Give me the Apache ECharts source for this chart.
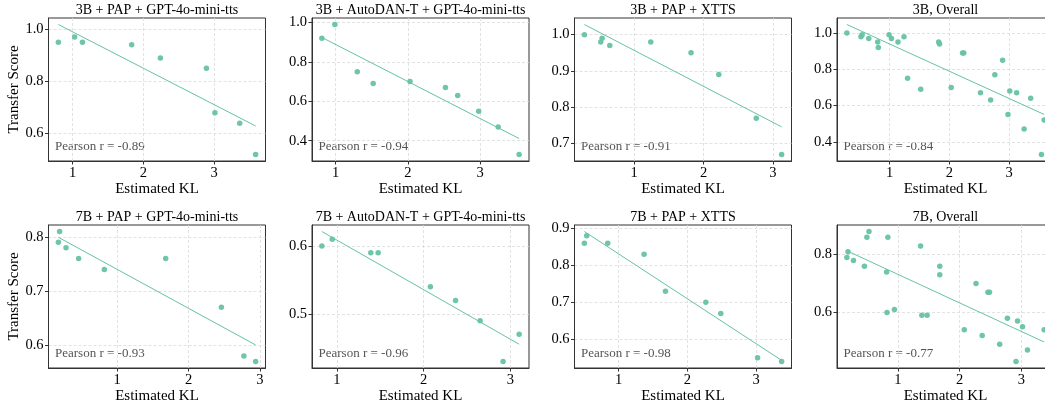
<!DOCTYPE html>
<html><head><meta charset="utf-8">
<script src="https://cdn.jsdelivr.net/npm/echarts@6/dist/echarts.min.js"></script>
<style>html,body{margin:0;padding:0;background:#fff;overflow:hidden}#c{width:1045px;height:408px}</style>
</head><body><div id="c"></div>
<script>
// ---- data ----
const titles = ['3B + PAP + GPT-4o-mini-tts', '3B + AutoDAN-T + GPT-4o-mini-tts', '3B + PAP + XTTS', '3B, Overall',
                '7B + PAP + GPT-4o-mini-tts', '7B + AutoDAN-T + GPT-4o-mini-tts', '7B + PAP + XTTS', '7B, Overall'];
const pearson = ['-0.89', '-0.94', '-0.91', '-0.84', '-0.93', '-0.96', '-0.98', '-0.77'];

const kl_3b_pap_gpt  = [0.80, 1.03, 1.14, 1.835, 2.24, 2.89, 3.01, 3.36, 3.585];
const ts_3b_pap_gpt  = [0.95, 0.97, 0.95, 0.94, 0.89, 0.85, 0.68, 0.64, 0.52];
const kl_3b_autodan  = [0.81, 0.99, 1.30, 1.52, 2.03, 2.52, 2.69, 2.98, 3.25, 3.54];
const ts_3b_autodan  = [0.92, 0.99, 0.75, 0.69, 0.70, 0.67, 0.63, 0.55, 0.47, 0.33];
const kl_3b_pap_xtts = [0.284, 0.52, 0.54, 0.65, 1.24, 1.82, 2.22, 2.76, 3.125];
const ts_3b_pap_xtts = [1.00, 0.98, 0.99, 0.97, 0.98, 0.95, 0.89, 0.77, 0.67];

const kl_7b_pap_gpt  = [0.176, 0.194, 0.283, 0.46, 0.82, 1.68, 2.46, 2.775, 2.94];
const ts_7b_pap_gpt  = [0.79, 0.81, 0.78, 0.76, 0.74, 0.76, 0.67, 0.58, 0.57];
const kl_7b_autodan  = [0.826, 0.946, 1.39, 1.475, 2.077, 2.367, 2.65, 2.915, 3.10];
const ts_7b_autodan  = [0.60, 0.61, 0.59, 0.59, 0.54, 0.52, 0.49, 0.43, 0.47];
const kl_7b_pap_xtts = [0.50, 0.534, 0.84, 1.369, 1.68, 2.267, 2.485, 3.02, 3.37];
const ts_7b_pap_xtts = [0.86, 0.88, 0.86, 0.83, 0.73, 0.70, 0.67, 0.55, 0.54];

const xTicks = [1, 2, 3];
const yTicks = [[0.6, 0.8, 1.0], [0.4, 0.6, 0.8, 1.0], [0.7, 0.8, 0.9, 1.0], [0.4, 0.6, 0.8, 1.0],
                [0.6, 0.7, 0.8], [0.5, 0.6], [0.6, 0.7, 0.8, 0.9], [0.6, 0.8]];

// overall panels are the union of the three settings
const kl_3b_all = kl_3b_pap_gpt.concat(kl_3b_autodan, kl_3b_pap_xtts);
const ts_3b_all = ts_3b_pap_gpt.concat(ts_3b_autodan, ts_3b_pap_xtts);
const kl_7b_all = kl_7b_pap_gpt.concat(kl_7b_autodan, kl_7b_pap_xtts);
const ts_7b_all = ts_7b_pap_gpt.concat(ts_7b_autodan, ts_7b_pap_xtts);

const KL = [kl_3b_pap_gpt, kl_3b_autodan, kl_3b_pap_xtts, kl_3b_all, kl_7b_pap_gpt, kl_7b_autodan, kl_7b_pap_xtts, kl_7b_all];
const TS = [ts_3b_pap_gpt, ts_3b_autodan, ts_3b_pap_xtts, ts_3b_all, ts_7b_pap_gpt, ts_7b_autodan, ts_7b_pap_xtts, ts_7b_all];

// ---- layout ----
const COL_LEFT = [48.5, 312, 574.5, 837];
const ROW_TOP = [18, 225];
const PW = 217, PH = 143;
const FONT = '"Liberation Serif", "Times New Roman", serif';
const GREEN = '#66c2a5';

function fit(x, y) {
  const n = x.length;
  const mx = x.reduce((a, b) => a + b, 0) / n, my = y.reduce((a, b) => a + b, 0) / n;
  let sxy = 0, sxx = 0;
  for (let i = 0; i < n; i++) { sxy += (x[i] - mx) * (y[i] - my); sxx += (x[i] - mx) ** 2; }
  const b = sxy / sxx;
  return v => my + b * (v - mx);
}
function padRange(vals) {
  const lo = Math.min(...vals), hi = Math.max(...vals), p = (hi - lo) * 0.05;
  return [lo - p, hi + p];
}

const grids = [], xAxes = [], yAxes = [], series = [], graphics = [];
for (let i = 0; i < 8; i++) {
  const row = i < 4 ? 0 : 1, col = i % 4;
  const left = COL_LEFT[col], top = ROW_TOP[row];
  const kl = KL[i], ts = TS[i];
  const f = fit(kl, ts);
  const x0 = Math.min(...kl), x1 = Math.max(...kl);
  const xr = padRange(kl);
  const yr = padRange(ts.concat([f(x0), f(x1)]));
  grids.push({ left: left, top: top, width: PW, height: PH, show: true, borderColor: '#333', borderWidth: 1,
               containLabel: false, outerBoundsMode: 'none' });
  xAxes.push({
    gridIndex: i, type: 'value', min: xr[0], max: xr[1],
    axisLine: { show: true, onZero: false, lineStyle: { color: '#333', width: 1 } },
    axisTick: { show: true, inside: false, length: 3.5, customValues: xTicks, lineStyle: { color: '#333' } },
    axisLabel: { customValues: xTicks, margin: 5, fontFamily: FONT, fontSize: 14.5, color: '#000',
                 formatter: v => String(Math.round(v)) },
    splitLine: { show: true, lineStyle: { color: '#dadada', type: [3, 2], width: 0.8 } },
    name: 'Estimated KL', nameLocation: 'middle', nameGap: 20,
    nameTextStyle: { fontFamily: FONT, fontSize: 15, color: '#000' }
  });
  yAxes.push({
    gridIndex: i, type: 'value', min: yr[0], max: yr[1],
    axisLine: { show: true, onZero: false, lineStyle: { color: '#333', width: 1 } },
    axisTick: { show: true, inside: false, length: 3.5, customValues: yTicks[i], lineStyle: { color: '#333' } },
    axisLabel: { customValues: yTicks[i], margin: 5, fontFamily: FONT, fontSize: 14.5, color: '#000',
                 formatter: v => v.toFixed(1) },
    splitLine: { show: true, lineStyle: { color: '#dadada', type: [3, 2], width: 0.8 } },
    name: col === 0 ? 'Transfer Score' : '', nameLocation: 'middle', nameGap: 27,
    nameTextStyle: { fontFamily: FONT, fontSize: 15, color: '#000' }
  });
  series.push({
    type: 'scatter', xAxisIndex: i, yAxisIndex: i, symbolSize: 5.5, silent: true,
    itemStyle: { color: GREEN, opacity: 0.95 },
    data: kl.map((x, j) => [x, ts[j]])
  });
  series.push({
    type: 'line', xAxisIndex: i, yAxisIndex: i, symbol: 'none', silent: true,
    lineStyle: { color: GREEN, width: 1 },
    data: [[x0, f(x0)], [x1, f(x1)]]
  });
  graphics.push({ type: 'text', x: left + PW / 2, y: top - 8, silent: true,
    style: { text: titles[i], fontFamily: FONT, fontSize: 14, fill: '#000', align: 'center', verticalAlign: 'middle' } });
  graphics.push({ type: 'text', x: left + 6.5, y: top + PH - 14.5, silent: true,
    style: { text: 'Pearson r = ' + pearson[i], fontFamily: FONT, fontSize: 13, fill: '#555', align: 'left', verticalAlign: 'middle' } });
}

const chart = echarts.init(document.getElementById('c'), null, { renderer: 'canvas' });
chart.setOption({
  backgroundColor: '#fff', animation: false,
  grid: grids, xAxis: xAxes, yAxis: yAxes, series: series, graphic: graphics
});
</script></body></html>
